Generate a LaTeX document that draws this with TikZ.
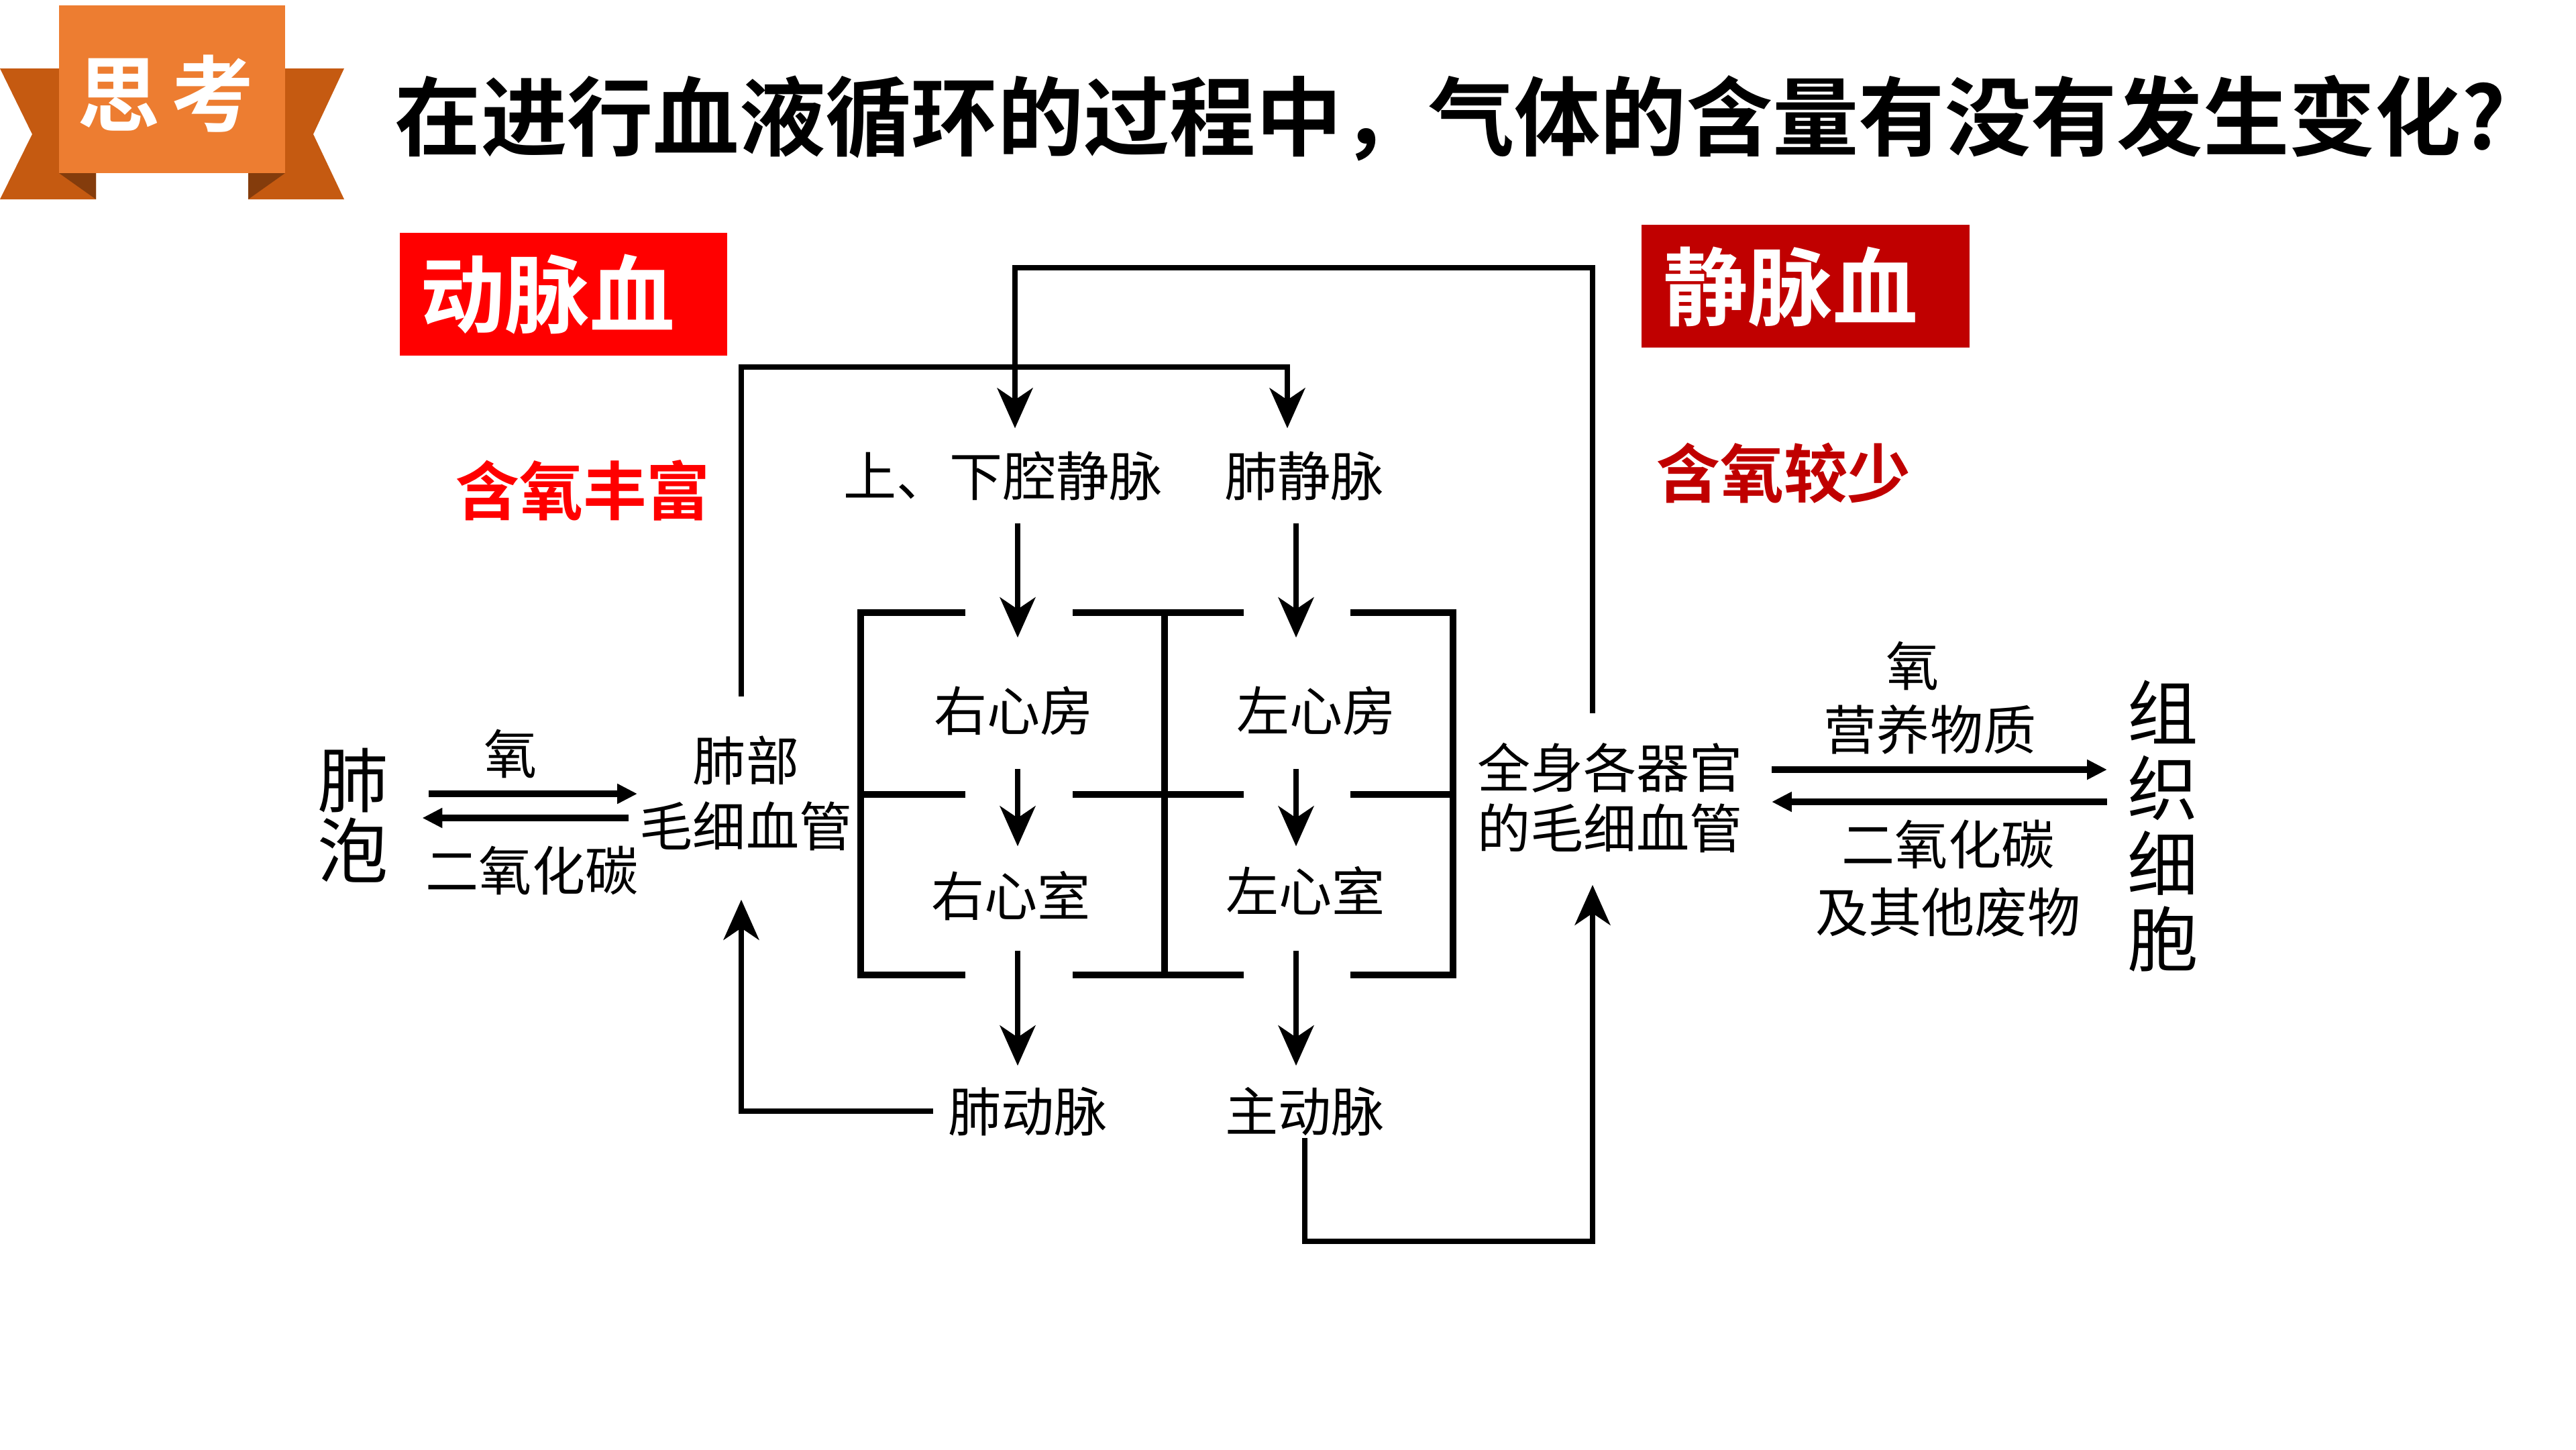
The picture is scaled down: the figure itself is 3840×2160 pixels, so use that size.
\documentclass[tikz,border=0pt]{standalone}
\usepackage{fontspec}
\newfontfamily\cjk{Noto Sans CJK SC}[BoldFont={Noto Sans CJK SC Bold}]
\usetikzlibrary{arrows.meta,calc}
\definecolor{orgA}{HTML}{ED7D31}
\definecolor{orgB}{HTML}{C55A11}
\definecolor{orgC}{HTML}{843C0C}
\definecolor{redA}{HTML}{FF0000}
\definecolor{redB}{HTML}{C00000}
\begin{document}
\begin{tikzpicture}[x=0.01cm,y=-0.01cm,
  txt/.style={font=\cjk\fontsize{22.5}{27}\selectfont, inner sep=0pt, text height=19.8pt, text depth=2.7pt},
  two/.style={font=\cjk\fontsize{22.5}{#1}\selectfont, inner sep=0pt, align=center},
  big/.style={font=\cjk\fontsize{30}{#1}\selectfont, inner sep=0pt, align=center},
  boxtxt/.style={font=\cjk\bfseries\fontsize{36}{40}\selectfont, text=white, inner sep=0pt},
  redtxt/.style={font=\cjk\bfseries\fontsize{27}{30}\selectfont, inner sep=0pt},
  conn/.style={line width=2.5pt},
  varr/.style={conn, -{Stealth[length=17pt,width=15pt,inset=5pt]}},
  harr/.style={line width=2.7pt, -{Triangle[length=8.5pt,width=8pt]}},
  wall/.style={line width=2.9pt}
]
\useasboundingbox (0,0) rectangle (3840,2160);
\fill[white] (0,0) rectangle (3840,2160);

% banner
\fill[orgB] (0,102) -- (143,102) -- (143,297) -- (0,297) -- (48,200) -- cycle;
\fill[orgB] (370,102) -- (513,102) -- (467,200) -- (513,297) -- (370,297) -- cycle;
\fill[orgC] (88,258) -- (143,258) -- (143,297) -- cycle;
\fill[orgC] (425,258) -- (370,258) -- (370,297) -- cycle;
\fill[orgA] (88,8) rectangle (425,258);
\node[font=\cjk\bfseries\fontsize{35}{35}\selectfont, text=white, inner sep=0pt] (sikao) at (247,140) {思\hspace{5pt}考};

% title
\node[anchor=west, font=\cjk\bfseries\fontsize{36.5}{40}\selectfont, inner sep=0pt, text height=32.1pt, text depth=4.4pt] (title) at (588,174) {在进行血液循环的过程中，气体的含量有没有发生变化?};

% labels
\fill[redA] (596,347) rectangle (1084,530);
\node[boxtxt] (dmx) at (816,439) {动脉血};
\fill[redB] (2447,335) rectangle (2936,518);
\node[boxtxt] (jmx) at (2669,428) {静脉血};
\node[redtxt, text=redA] (hyff) at (869,731) {含氧丰富};
\node[redtxt, text=redB] (hyjs) at (2659,705) {含氧较少};

% heart walls
\draw[wall] (1439,913) -- (1283,913) -- (1283,1453) -- (1439,1453);
\draw[wall] (1283,1184) -- (1439,1184);
\draw[wall] (1599,913) -- (1854,913);
\draw[wall] (1599,1184) -- (1854,1184);
\draw[wall] (1599,1453) -- (1854,1453);
\draw[wall] (1736,913) -- (1736,1453);
\draw[wall] (2013,913) -- (2166,913) -- (2166,1453) -- (2013,1453);
\draw[wall] (2013,1184) -- (2166,1184);

% nodes
\node[txt, minimum height=1.4cm] (sxjm) at (1495,709) {上、下腔静脉};
\node[txt, minimum height=1.4cm] (fjm) at (1944,709) {肺静脉};
\node[txt] (ryf) at (1511,1059) {右心房};
\node[txt] (zxf) at (1962,1059) {左心房};
\node[txt] (rys) at (1507,1335) {右心室};
\node[txt] (zxs) at (1946,1328) {左心室};
\node[txt] (fdm) at (1532,1656) {肺动脉};
\node[txt] (zdm) at (1945,1656) {主动脉};
\node[two=27.9pt, minimum height=2.5cm] (fbmx) at (1112,1182) {肺部\\毛细血管};
\node[two=25.6pt, minimum height=2.5cm] (qsqg) at (2400,1189) {全身各器官\\的毛细血管};
\node[big=30pt] (fp) at (526,1215) {肺\\泡};
\node[big=32pt] (zzxb) at (3224,1231) {组\\织\\细\\胞};
\node[txt] (o2a) at (761,1123) {氧};
\node[txt] (co2a) at (793,1297) {二氧化碳};
\node[txt] (o2b) at (2851,992) {氧};
\node[txt] (yywz) at (2877,1087) {营养物质};
\node[two=28.5pt] (co2b) at (2904,1309) {二氧化碳\\及其他废物};

% helper coordinates
\coordinate (colL) at (1517,0);
\coordinate (colR) at (1932,0);
\coordinate (fbx) at (1105,0);
\coordinate (bot) at (2374,1850);
\coordinate (pvtop) at (1919,547);
\coordinate (cvtop) at (1513,399);

% connectors
\draw[varr, shorten >=0.685cm] (sxjm.south -| colL) -- (ryf.north -| colL);
\draw[varr, shorten >=0.685cm] (fjm.south -| colR) -- (zxf.north -| colR);
\draw[varr, shorten <=0.465cm, shorten >=0.335cm] (ryf.south -| colL) -- (rys.north -| colL);
\draw[varr, shorten <=0.465cm, shorten >=0.265cm] (zxf.south -| colR) -- (zxs.north -| colR);
\draw[varr, shorten <=0.415cm, shorten >=0.275cm] (rys.south -| colL) -- (fdm.north -| colL);
\draw[varr, shorten <=0.485cm, shorten >=0.275cm] (zxs.south -| colR) -- (zdm.north -| colR);
\draw[varr, shorten <=0.215cm, shorten >=0.33cm] (fdm.west) -| (fbmx.south -| fbx);
\draw[varr, shorten >=0.04cm] (zdm.south) |- (bot) -- (qsqg.south -| bot);
\draw[varr, shorten <=0.18cm] (fbmx.north -| fbx) |- (pvtop) -- (fjm.north -| pvtop);
\draw[varr] (qsqg.north -| bot) |- (cvtop) -- (sxjm.north -| cvtop);

% gas exchange arrows
\draw[harr] ($(fp.east)+(60,-32)$) -- ($(fbmx.west)+(-3,1)$);
\draw[harr] ($(fbmx.west)+(-16,37)$) -- ($(fp.east)+(50,4)$);
\draw[harr] ($(qsqg.east)+(42.5,-42)$) -- ($(zzxb.west)+(-29.5,-84)$);
\draw[harr] ($(zzxb.west)+(-29.5,-36)$) -- ($(qsqg.east)+(42.5,6)$);
\end{tikzpicture}
\end{document}
